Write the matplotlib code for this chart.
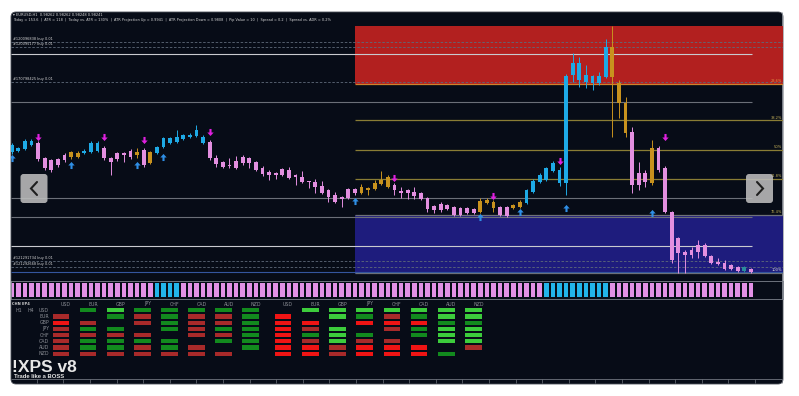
import numpy as np
import matplotlib.pyplot as plt
from matplotlib.patches import FancyBboxPatch, Rectangle
from matplotlib.path import Path

W, H = 799, 396

# EURUSD H1 candles, values in pips above the swing low
open_ = [121, 122, 124, 128, 130, 115, 113, 114, 118, 116, 116, 120, 121, 122, 125, 115, 120, 120, 122, 118,
         123, 110, 120, 126, 130, 131, 134, 136, 137, 130, 131, 115, 111, 107, 112, 116, 115, 111, 105, 101,
         100, 104, 103, 98, 96, 91, 91, 87, 83, 78, 76, 84, 84, 80, 83, 84, 89, 86, 88, 82,
         83, 81, 80, 75, 67, 69, 68, 66, 65, 65, 64, 61, 70, 65, 66, 66, 65, 66, 70, 81,
         91, 93, 102, 90, 90, 198, 193, 191, 190, 190, 196, 226, 190, 170, 141, 100, 100, 90, 125, 105,
         61, 35, 21, 23, 28, 28, 17, 11, 10, 8, 6, 2, 4]
high = [130, 126, 134, 134, 132, 116, 114, 115, 120, 122, 122, 124, 132, 132, 127, 116, 121, 121, 124, 125,
        125, 122, 127, 136, 136, 143, 139, 140, 148, 138, 133, 118, 112, 115, 117, 118, 116, 112, 107, 103,
        101, 105, 106, 99, 102, 92, 94, 92, 84, 81, 77, 85, 85, 89, 86, 93, 102, 98, 90, 86,
        84, 86, 81, 76, 68, 71, 69, 67, 66, 66, 65, 75, 75, 73, 67, 67, 69, 73, 84, 94,
        100, 106, 112, 106, 199, 220, 216, 208, 198, 201, 234, 247, 193, 176, 146, 111, 103, 133, 127, 107,
        62, 36, 23, 26, 33, 30, 18, 15, 13, 9, 7, 7, 5]
low = [119, 121, 123, 127, 112, 103, 101, 106, 111, 114, 115, 119, 120, 121, 113, 98, 112, 111, 114, 115,
       106, 109, 119, 125, 129, 130, 133, 135, 136, 129, 113, 106, 105, 105, 104, 108, 105, 102, 97, 93,
       94, 97, 94, 88, 90, 85, 80, 79, 71, 70, 66, 74, 78, 79, 78, 83, 88, 85, 78, 75,
       74, 74, 73, 61, 60, 61, 63, 57, 57, 59, 59, 60, 69, 61, 57, 56, 64, 65, 69, 80,
       90, 92, 101, 87, 78, 191, 186, 185, 183, 188, 195, 136, 155, 136, 80, 83, 86, 88, 101, 60,
       10, 0, 0, 15, 15, 16, 9, 8, 3, 3, 1, 1, 0]
close = [128, 125, 132, 132, 114, 105, 103, 108, 113, 121, 120, 122, 130, 130, 115, 111, 114, 118, 116, 121,
         108, 121, 126, 135, 135, 136, 138, 138, 143, 136, 115, 109, 106, 106, 105, 110, 110, 103, 99, 98,
         98, 98, 95, 96, 91, 90, 86, 80, 76, 71, 74, 75, 80, 86, 85, 90, 93, 96, 83, 80,
         80, 77, 74, 64, 63, 63, 64, 58, 58, 60, 60, 72, 73, 71, 58, 57, 68, 71, 83, 92,
         98, 105, 110, 103, 197, 210, 210, 198, 197, 197, 226, 196, 170, 140, 88, 88, 91, 125, 103, 61,
         13, 20, 18, 18, 21, 17, 10, 9, 4, 4, 2, 6, 1]
# b = bull, p = bear, o = neutral, t = teal
kind = ("bbbbpppppoobbbpppppopobbbbbbbb"
        "ppppppppppppppppppppppp"
        "ooooo" "ppppppppppppp" "ooo" "pp" "oo"
        "bbbbbbbbbbbbb" "ooo" "ppp" "o" "ppppppppppppp" "t" "p")

up_sig_idx = [0, 9, 19, 23, 52, 71, 77, 84, 97]
up_sig_lvl = [115, 108, 108, 116, 72, 56, 61, 65, 60]
dn_sig_idx = [4, 14, 20, 30, 58, 73, 83, 99]
dn_sig_lvl = [136, 136, 133, 141, 95, 77, 112, 136]

white_levels = [219, 27]
grey_levels = [171, 75, 56]
blue_levels = [1]
order_levels = [231, 226, 191, 12, 6]
order_labels = ["#120096838 buy 0.01", "#120095177 buy 0.01", "#170798425 buy 0.01",
                "#121291734 buy 0.01", "#121292668 buy 0.01"]

fib_ratios = [0.236, 0.382, 0.5, 0.618, 0.764, 1.0]
fib_names = ["23.6%", "38.2%", "50%", "61.8%", "76.4%", "100%"]
zone_start = 52

strip_blue = [22, 23, 24, 25, 81, 82, 83, 84, 85, 86, 87, 88, 89, 90]

currencies = ["USD", "EUR", "GBP", "JPY", "CHF", "CAD", "AUD", "NZD"]
# per column currency, one code per row currency: 0 none, 1 weak sell, 2 sell, 3 weak buy, 4 buy
h1_cols = ["01211111", "30131331", "43031331", "31101311",
           "33330331", "31111011", "31131301", "33333330"]
h4_cols = ["02222222", "40213122", "44044411", "43203122",
           "41210122", "43233022", "44344403", "44344410"]

header1 = "\u25be EURUSD,H1  0.98262 0.98262 0.98248 0.98241"
header2 = ("Today = 153.6  |  ATR = 118  |  Today vs. ATR = 130%  |  ATR Projection Up = 0.9941  |  "
           "ATR Projection Down = 0.9808  |  Pip Value = 10  |  Spread = 0.2  |  Spread vs. ADR = 0.2%")

PANEL = "#070c17"
col_map = {"b": "#1eaae6", "p": "#e38fe0", "o": "#c8921e", "t": "#2b8c9c"}
cell_col = {1: "#a82a2a", 2: "#f01414", 3: "#128a1e", 4: "#3ccc3c"}


def px_rect(x0, y0, x1, y1):
    return [x0 / W, 1 - y1 / H, (x1 - x0) / W, (y1 - y0) / H]


fig = plt.figure(figsize=(W / 100, H / 100), dpi=100, facecolor="white")

# background / decoration axis in pixel coords
bg = fig.add_axes([0, 0, 1, 1], zorder=0)
bg.set_xlim(0, W)
bg.set_ylim(H, 0)
bg.axis("off")
bg.add_patch(FancyBboxPatch((11, 12), 772, 372, boxstyle="round,pad=0,rounding_size=5",
                            facecolor=PANEL, edgecolor="#4a4f58", lw=0.6))
bg.vlines(782, 12, 299, color="#8a8f98", lw=0.6)
bg.hlines(379, 11, 782, color="#70757e", lw=0.6)
bg.vlines(np.arange(36.7, 782, 26.6), 379, 383, color="#70757e", lw=0.5)

# price chart
n = len(open_)
x = np.arange(n)
xlo, xhi = (11 - 11.7) / 6.6, (783 - 11.7) / 6.6
ax = fig.add_axes(px_rect(11, 12, 783, 280), zorder=2)
ax.set_facecolor("none")
ax.set_xlim(xlo, xhi)
ax.set_ylim(-7, 261)
ax.axis("off")

hi = max(high[zone_start:])
lo = min(low[zone_start:])
fib_lv = [hi - r * (hi - lo) for r in fib_ratios]
ax.add_patch(Rectangle((zone_start, fib_lv[0]), xhi - zone_start, hi - fib_lv[0],
                       facecolor="#b2201f", edgecolor="none", zorder=1))
ax.add_patch(Rectangle((zone_start, lo - 1), xhi - zone_start, fib_lv[4] - lo + 1,
                       facecolor="#1e1c7d", edgecolor="none", zorder=1))
fib_cols = ["#d0822a", "#8a7d35", "#8a7d35", "#8a7d35", "#6f7278", "#6f7278"]
txt_cols = ["#e09040", "#c8b45a", "#c8b45a", "#c8b45a", "#c8b45a", "#d8d8d8"]
ax.hlines(fib_lv, zone_start, xhi, colors=fib_cols, lw=0.9, zorder=2)
for lv, name, c in zip(fib_lv, fib_names, txt_cols):
    ax.text(xhi - 0.2, lv + 0.8, name, color=c, fontsize=2.6, ha="right", va="bottom", zorder=3)

last = n - 1 + 0.2
ax.hlines(white_levels, xlo, last, colors="#c9cacf", lw=0.8, zorder=2)
ax.hlines(grey_levels, xlo, last, colors="#6b6f78", lw=0.8, zorder=2)
ax.hlines(blue_levels, xlo, xhi, colors="#34559e", lw=0.8, zorder=2)
ax.hlines(order_levels, xlo, xhi, colors="#5f6a7a", lw=0.6, linestyles=(0, (3, 2)), zorder=2)
for lv, lab in zip(order_levels, order_labels):
    ax.text(xlo + 0.3, lv + 0.8, lab, color="#d6d6d6", fontsize=2.5, va="bottom", zorder=3)

cols = [col_map[k] for k in kind]
body = np.array(close, float) - np.array(open_, float)
body = np.where(np.abs(body) < 1.2, 1.2, body)
ax.vlines(x, low, high, colors=cols, lw=0.7, zorder=4)
ax.bar(x, body, bottom=open_, width=0.58, color=cols, linewidth=0, zorder=5)

up_path = Path([(-0.3, -1), (0.3, -1), (0.3, 0), (0.9, 0), (0, 1), (-0.9, 0), (-0.3, 0), (-0.3, -1)],
               [Path.MOVETO] + [Path.LINETO] * 6 + [Path.CLOSEPOLY])
dn_path = Path(up_path.vertices * [1, -1], up_path.codes)
ax.scatter(up_sig_idx, up_sig_lvl, marker=up_path, s=26, color="#2f8fe6", linewidths=0, zorder=6)
ax.scatter(dn_sig_idx, dn_sig_lvl, marker=dn_path, s=26, color="#e020e0", linewidths=0, zorder=6)

# trend strip
sx = fig.add_axes(px_rect(11, 281, 783, 299), zorder=2)
sx.set_facecolor("none")
sx.set_xlim(xlo, xhi)
sx.set_ylim(0, 1)
sx.set_xticks([])
sx.set_yticks([])
for sp in sx.spines.values():
    sp.set_color("#7d828c")
    sp.set_linewidth(0.6)
strip_cols = ["#22b4ea" if i in strip_blue else "#e391e6" for i in range(n)]
sx.bar(x, 0.78, bottom=0.11, width=0.68, color=strip_cols, linewidth=0)

# currency strength matrix
lab_c = "#8c8f96"
bg.text(12, 304, "CHN EP4", color="#d0d0d0", fontsize=2.6, fontweight="bold", va="center")
bg.text(15, 311, "H1", color=lab_c, fontsize=3.4, va="center")
bg.text(28, 311, "H4", color=lab_c, fontsize=3.4, va="center")
for r, cur in enumerate(currencies):
    bg.text(49, 310.3 + 6.2 * r, cur, color=lab_c, fontsize=3.4, ha="right", va="center")
for x0, step, cols_data in [(61, 27.1, h1_cols), (283, 27.2, h4_cols)]:
    for k, cur in enumerate(currencies):
        cx = x0 + step * k
        bg.text(cx + 5, 304, cur, color=lab_c, fontsize=3.4, ha="center", va="center")
        for r, code in enumerate(cols_data[k]):
            code = int(code)
            if code:
                cy = 310.3 + 6.2 * r
                bg.add_patch(Rectangle((cx - 8.3, cy - 2.1), 16.6, 4.2, facecolor=cell_col[code],
                                       edgecolor="none"))

bg.text(12, 372.5, "!XPS v8", color="#e6e6e6", fontsize=12.5, fontweight="bold",
        family="Liberation Sans", va="baseline")
bg.text(14, 378.5, "Trade like a BOSS", color="#e6e6e6", fontsize=4.2, fontweight="bold",
        family="Liberation Sans", va="baseline")

# header + nav buttons overlay
fg = fig.add_axes([0, 0, 1, 1], zorder=5)
fg.set_xlim(0, W)
fg.set_ylim(H, 0)
fg.axis("off")
fg.text(13, 15.5, header1, color="#d8d8d8", fontsize=2.6, va="center")
fg.text(13, 20.5, header2, color="#d8d8d8", fontsize=2.5, va="center")
for bx, pts in [(20.5, [(37, 182), (31, 188.5), (37, 195)]),
                (746, [(757, 182), (763, 188.5), (757, 195)])]:
    fg.add_patch(FancyBboxPatch((bx, 174), 27, 29, boxstyle="round,pad=0,rounding_size=3",
                                facecolor="#bdbdbd", edgecolor="none", alpha=0.88))
    px, py = zip(*pts)
    fg.plot(px, py, color="#1e1e1e", lw=1.5, solid_capstyle="round", solid_joinstyle="miter")

fig.savefig("out.png", dpi=100, facecolor="white")
